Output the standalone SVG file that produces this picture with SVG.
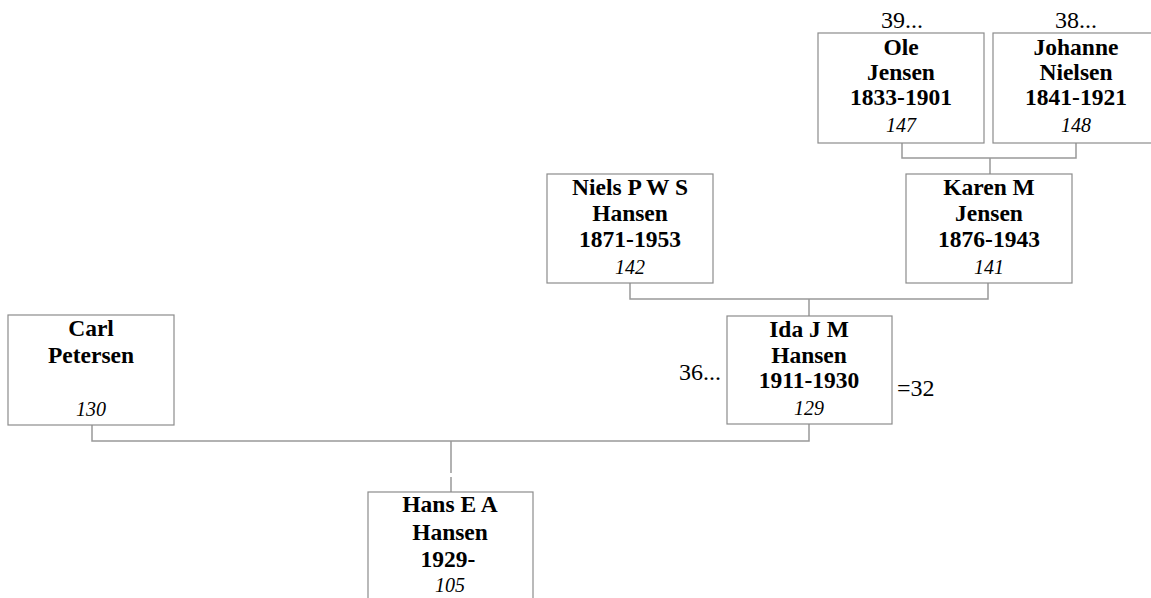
<svg xmlns="http://www.w3.org/2000/svg" width="1151" height="598" viewBox="0 0 1151 598">
<style>
.box{fill:#fff;stroke:#8c8c8c;stroke-width:1.2}
.ln{fill:none;stroke:#999;stroke-width:1.5}
.nm{font-family:"Liberation Serif","Times New Roman",serif;font-weight:bold;font-size:23.5px;text-anchor:middle;fill:#000}
.id{font-family:"Liberation Serif","Times New Roman",serif;font-style:italic;font-size:20px;text-anchor:middle;fill:#000}
.ex{font-family:"Liberation Serif","Times New Roman",serif;font-size:24px;fill:#000}
</style>
<rect width="1151" height="598" fill="#fff"/>
<g id="connectors">
<path class="ln" d="M902 143V158H1076V143M990 158V174"/>
<path class="ln" d="M630 283V299H988V283M809 299V316"/>
<path class="ln" d="M92 425V441H809V424M451 441V473M451 477V492"/>
</g>
<g id="n147">
<rect class="box" x="818" y="33" width="166" height="110"/>
<text class="ex" x="902" y="28" text-anchor="middle">39...</text>
<text class="nm" x="901" y="55">Ole</text>
<text class="nm" x="901" y="80">Jensen</text>
<text class="nm" x="901" y="105">1833-1901</text>
<text class="id" x="901" y="132">147</text>
</g>
<g id="n148">
<rect class="box" x="993" y="33" width="166" height="110"/>
<text class="ex" x="1076" y="28" text-anchor="middle">38...</text>
<text class="nm" x="1076" y="55">Johanne</text>
<text class="nm" x="1076" y="80">Nielsen</text>
<text class="nm" x="1076" y="105">1841-1921</text>
<text class="id" x="1076" y="132">148</text>
</g>
<g id="n142">
<rect class="box" x="547" y="174" width="166" height="109"/>
<text class="nm" x="630" y="195">Niels P W S</text>
<text class="nm" x="630" y="221">Hansen</text>
<text class="nm" x="630" y="247">1871-1953</text>
<text class="id" x="630" y="274">142</text>
</g>
<g id="n141">
<rect class="box" x="906" y="174" width="166" height="109"/>
<text class="nm" x="989" y="195">Karen M</text>
<text class="nm" x="989" y="221">Jensen</text>
<text class="nm" x="989" y="247">1876-1943</text>
<text class="id" x="989" y="274">141</text>
</g>
<g id="n129">
<rect class="box" x="727" y="316" width="165" height="108"/>
<text class="nm" x="809" y="337">Ida J M</text>
<text class="nm" x="809" y="363">Hansen</text>
<text class="nm" x="809" y="388">1911-1930</text>
<text class="id" x="809" y="415">129</text>
<text class="ex" x="721" y="380" text-anchor="end">36...</text>
<text class="ex" x="897" y="396">=32</text>
</g>
<g id="n130">
<rect class="box" x="8" y="315" width="166" height="110"/>
<text class="nm" x="91" y="336">Carl</text>
<text class="nm" x="91" y="363">Petersen</text>
<text class="id" x="91" y="416">130</text>
</g>
<g id="n105">
<rect class="box" x="368" y="492" width="165" height="120"/>
<text class="nm" x="450" y="512">Hans E A</text>
<text class="nm" x="450" y="540">Hansen</text>
<text class="nm" x="448" y="567">1929-</text>
<text class="id" x="450" y="592">105</text>
</g>
</svg>
